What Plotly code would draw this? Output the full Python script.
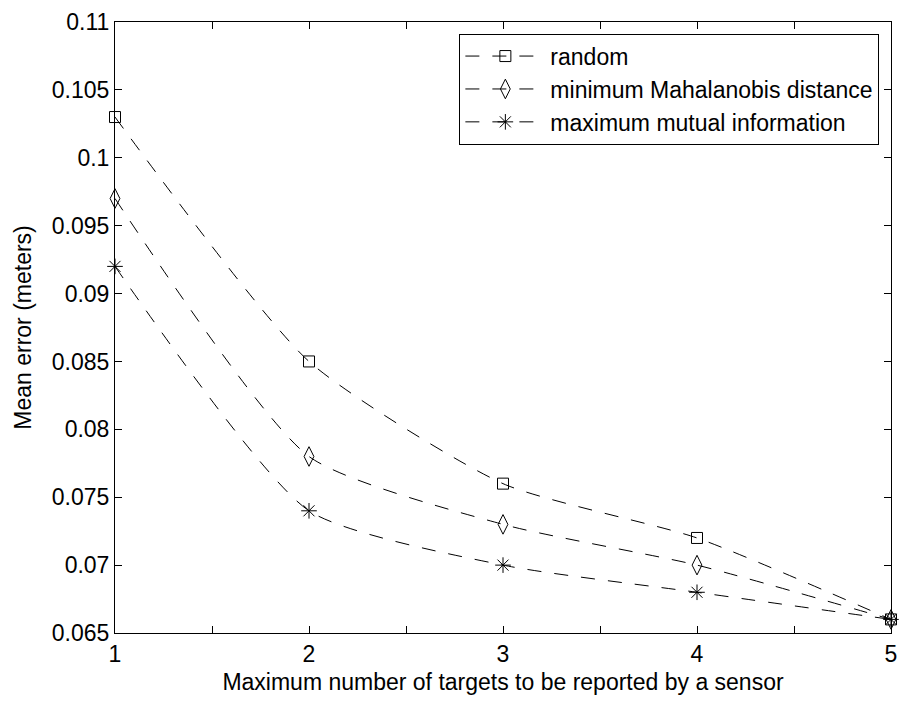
import plotly.graph_objects as go

x_vals = [1, 2, 3, 4, 5]
random_err = [0.103, 0.085, 0.076, 0.072, 0.066]
mahal_err = [0.097, 0.078, 0.073, 0.070, 0.066]
mutual_err = [0.092, 0.074, 0.070, 0.068, 0.066]
series_names = ["random", "minimum Mahalanobis distance", "maximum mutual information"]

x_tickvals = [1, 1.5, 2, 2.5, 3, 3.5, 4, 4.5, 5]
x_ticktext = ["1", "", "2", "", "3", "", "4", "", "5"]
y_tickvals = [0.065, 0.07, 0.075, 0.08, 0.085, 0.09, 0.095, 0.1, 0.105, 0.11]
y_ticktext = ["0.065", "0.07", "0.075", "0.08", "0.085", "0.09", "0.095", "0.1", "0.105", "0.11"]

FONT = "Liberation Sans, Arial, Helvetica, sans-serif"
DASH = "14px,13px"

fig = go.Figure()
styles = [
    dict(symbol="square-open", size=11),
    dict(symbol="diamond-tall-open", size=14),
    dict(symbol="asterisk-open", size=13),
]
for name, ys, st in zip(series_names, [random_err, mahal_err, mutual_err], styles):
    fig.add_trace(go.Scatter(
        x=x_vals, y=ys, name=name, mode="lines+markers",
        line=dict(color="black", width=1, dash=DASH, shape="spline", smoothing=0.6),
        marker=dict(symbol=st["symbol"], size=st["size"], color="black",
                    line=dict(color="black", width=1)),
        cliponaxis=False,
    ))

axis_common = dict(
    showgrid=False, zeroline=False, showline=True, linecolor="black", linewidth=1,
    mirror="allticks", ticks="inside", ticklen=7, tickwidth=1, tickcolor="black",
    tickfont=dict(family=FONT, size=23, color="black"),
)

fig.update_layout(
    width=906, height=702,
    margin=dict(l=115, r=9, t=18, b=69),
    paper_bgcolor="white", plot_bgcolor="white",
    font=dict(family=FONT, size=23, color="black"),
    showlegend=True,
    legend=dict(
        x=0.985, y=0.981, xanchor="right", yanchor="top",
        bgcolor="white", bordercolor="black", borderwidth=1,
        font=dict(family=FONT, size=23, color="black"),
        tracegroupgap=0, itemwidth=80,
    ),
    xaxis=dict(
        range=[1, 5], tickmode="array", tickvals=x_tickvals, ticktext=x_ticktext,
        title=dict(text="Maximum number of targets to be reported by a sensor",
                   font=dict(family=FONT, size=23), standoff=8),
        **axis_common,
    ),
    yaxis=dict(
        range=[0.065, 0.11], tickmode="array", tickvals=y_tickvals, ticktext=y_ticktext,
        title=dict(text="Mean error (meters)", font=dict(family=FONT, size=23), standoff=13),
        **axis_common,
    ),
)

fig.write_html("out.html")
